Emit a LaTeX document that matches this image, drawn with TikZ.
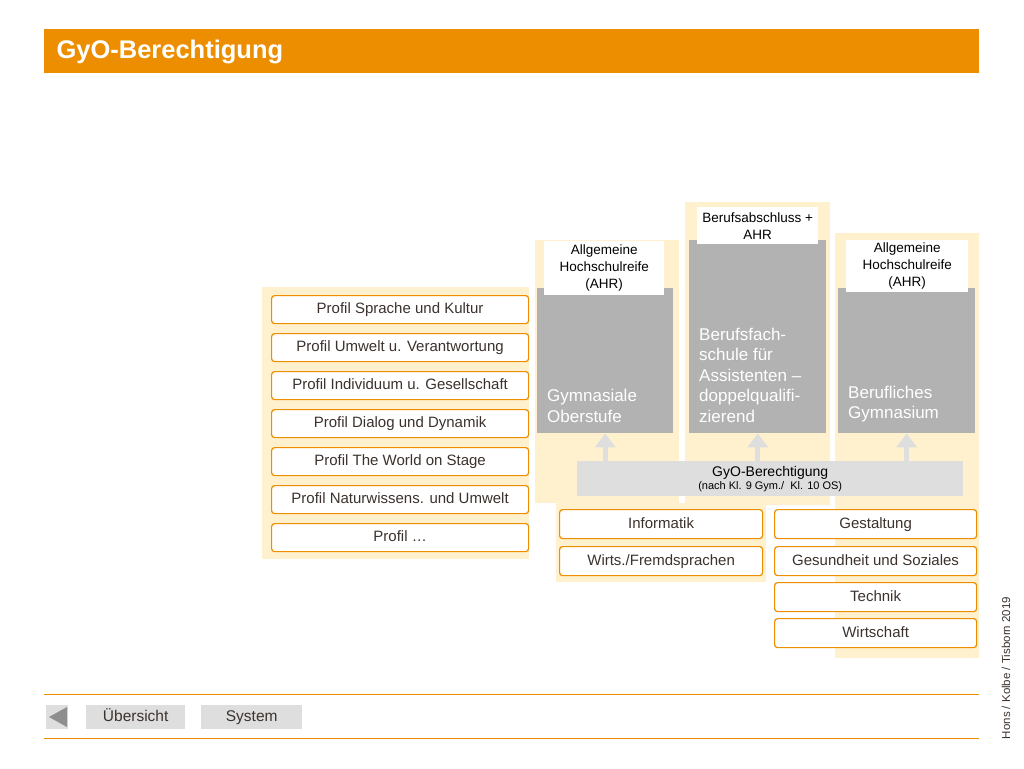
\documentclass[tikz,border=0pt]{standalone}
\usepackage{fontspec}
\setmainfont{Liberation Sans}
\usetikzlibrary{arrows.meta}
\definecolor{gyoorange}{RGB}{236,142,0}
\definecolor{gyocream}{RGB}{255,241,205}
\definecolor{gyogray}{RGB}{178,178,178}
\definecolor{gyolight}{RGB}{222,222,222}
\definecolor{gyotext}{RGB}{60,50,45}
\tikzset{
  panel/.style={fill=gyocream, draw=none},
  profil/.style={draw=gyoorange, line width=1.2pt, fill=white, rounded corners=3pt, text=gyotext, font=\fontsize{15}{17}\selectfont, anchor=north west, inner sep=0pt, text height=11pt, text depth=3pt},
  schule/.style={fill=gyogray, text=white, font=\fontsize{17}{20.5}\selectfont, align=left, inner sep=0pt},
  abschluss/.style={fill=white, text=black, font=\fontsize{13.5}{17}\selectfont, align=center, inner sep=0pt},
  navbtn/.style={fill=gyolight, text=gyotext, font=\fontsize{15.5}{17}\selectfont, inner sep=0pt, anchor=north west, text height=11pt, text depth=3pt},
  uparrow/.style={draw=gyolight, line width=5pt, -{Triangle[width=20pt,length=14pt]}}
}
\begin{document}
\begin{tikzpicture}[x=1pt,y=-1pt]
  \useasboundingbox (0,0) rectangle (1024,768);

  % title
  \fill[gyoorange] (44,29) rectangle (979,73);
  \node[anchor=west, text=white, font=\fontsize{25.5}{28}\selectfont\bfseries] (title) at (53,52) {GyO-Berechtigung};

  % cream panels
  \fill[panel] (262,287) rectangle (529,559);
  \fill[panel] (535,240) rectangle (679,503);
  \fill[panel] (685,202) rectangle (830,505);
  \fill[panel] (835,233) rectangle (979,658);
  \fill[panel] (556,503) rectangle (766,582);

  % profiles
  \foreach \t [count=\i from 0] in {Profil Sprache und Kultur, Profil Umwelt u. Verantwortung, Profil Individuum u. Gesellschaft, Profil Dialog und Dynamik, Profil The World on Stage, Profil Naturwissens. und Umwelt, Profil \dots}
    \node[profil, minimum width=257pt, minimum height=28pt] (p\i) at (271,{295+38*\i}) {\t};

  % school types
  \node[schule, minimum width=136pt, minimum height=145pt, anchor=north west] (gym) at (537,288) {};
  \node[anchor=south west, schule, fill=none] (gymt) at ([xshift=10pt,yshift=11pt]gym.south west) {Gymnasiale\\Oberstufe};
  \node[schule, minimum width=137pt, minimum height=193pt, anchor=north west] (bfs) at (689,240) {};
  \node[anchor=south west, schule, fill=none] (bfst) at ([xshift=10pt,yshift=11pt]bfs.south west) {Berufsfach-\\schule für\\Assistenten --\\doppelqualifi-\\zierend};
  \node[schule, minimum width=137pt, minimum height=145pt, anchor=north west] (bg) at (838,288) {};
  \node[anchor=south west, schule, fill=none] (bgt) at ([xshift=10pt,yshift=11pt]bg.south west) {Berufliches\\Gymnasium};

  \node[abschluss, minimum width=120pt, minimum height=54pt, anchor=north west] (ahr1) at (544,241) {Allgemeine\\Hochschulreife\\(AHR)};
  \node[abschluss, minimum width=121pt, minimum height=37pt, anchor=north west] (ahr2) at (697,207) {Berufsabschluss +\\AHR};
  \node[abschluss, minimum width=122pt, minimum height=52pt, anchor=north west] (ahr3) at (846,240) {Allgemeine\\Hochschulreife\\(AHR)};

  % GyO bar
  \node[fill=gyolight, minimum width=386pt, minimum height=35pt, anchor=north west, inner sep=0pt, align=center, text=black] (gyo) at (577,461) {\fontsize{14}{16}\selectfont GyO-Berechtigung\\[1pt]{\fontsize{11}{12}\selectfont (nach Kl. 9 Gym./\ \ Kl. 10 OS)}};
  \foreach \c in {gym,bfs,bg}
    \draw[uparrow] (gyo.north -| \c.south) -- (\c.south);

  % fields
  \node[profil, minimum width=203pt, minimum height=29pt] (inf) at (559,509) {Informatik};
  \node[profil, minimum width=203pt, minimum height=29pt] (wfs) at (559,546) {Wirts./Fremdsprachen};
  \node[profil, minimum width=202pt, minimum height=29pt] (ges) at (774,509) {Gestaltung};
  \node[profil, minimum width=202pt, minimum height=29pt] (gus) at (774,546) {Gesundheit und Soziales};
  \node[profil, minimum width=202pt, minimum height=29pt] (tec) at (774,582) {Technik};
  \node[profil, minimum width=202pt, minimum height=29pt] (wir) at (774,618) {Wirtschaft};

  % footer
  \draw[gyoorange, line width=1pt] (44,694) -- (979,694);
  \draw[gyoorange, line width=1pt] (44,738) -- (979,738);
  \fill[gyolight] (46,705) rectangle (68,729);
  \fill[gyogray!80!black] (49,717) -- (67,707) -- (67,727) -- cycle;
  \node[navbtn, minimum width=99pt, minimum height=24pt] (ueb) at (86,705) {Übersicht};
  \node[navbtn, minimum width=101pt, minimum height=24pt] (sys) at (201,705) {System};
  \node[rotate=90, font=\fontsize{11.5}{13}\selectfont, text=gyotext] (autor) at (1006,668) {Hons / Kolbe / Tisborn 2019};
\end{tikzpicture}
\end{document}
